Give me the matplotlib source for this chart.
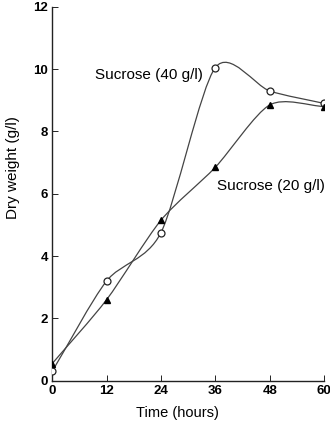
import numpy as np
import matplotlib
matplotlib.use("Agg")
import matplotlib.pyplot as plt
from matplotlib.path import Path
from matplotlib.patches import PathPatch

# data
time_h = [0, 12, 24, 36, 48, 60]
sucrose_40 = [0.3, 3.2, 4.75, 10.05, 9.3, 8.9]
sucrose_20 = [0.55, 2.6, 5.15, 6.85, 8.85, 8.8]
x_ticks = [0, 12, 24, 36, 48, 60]
y_ticks = [0, 2, 4, 6, 8, 10, 12]

plt.rcParams["font.family"] = ["Liberation Sans", "DejaVu Sans"]


def smooth_path(xs, ys, tension=0.8):
    # cardinal spline through the points, drawn as cubic bezier segments
    pts = np.column_stack([xs, ys]).astype(float)
    ext = np.vstack([2 * pts[0] - pts[1], pts, 2 * pts[-1] - pts[-2]])
    verts = [pts[0]]
    codes = [Path.MOVETO]
    for i in range(1, len(ext) - 2):
        p0, p1, p2, p3 = ext[i - 1], ext[i], ext[i + 1], ext[i + 2]
        c1 = p1 + tension * (p2 - p0) / 6
        c2 = p2 - tension * (p3 - p1) / 6
        verts += [c1, c2, p2]
        codes += [Path.CURVE4] * 3
    return Path(verts, codes)


fig = plt.figure(figsize=(3.3, 4.25), dpi=100)
ax = fig.add_axes([0.158, 0.104, 0.824, 0.88])

for ys in (sucrose_40, sucrose_20):
    ax.add_patch(PathPatch(smooth_path(time_h, ys), fill=False,
                           edgecolor="#444444", lw=0.9))

ax.plot(time_h, sucrose_40, "o", ms=5, mfc="white", mec="#222222", mew=0.9, zorder=3)
ax.plot(time_h, sucrose_20, "^", ms=5, color="black", zorder=3)

ax.text(9.5, 9.8, "Sucrose (40 g/l)", fontsize=11, va="center", ha="left")
ax.text(36.4, 6.25, "Sucrose (20 g/l)", fontsize=11, va="center", ha="left")

ax.set_xlim(0, 60)
ax.set_ylim(0, 12)
ax.set_xticks(x_ticks)
ax.set_yticks(y_ticks)
ax.tick_params(direction="in", length=4, width=0.6, labelsize=9.5, pad=3)
for lab in ax.get_xticklabels() + ax.get_yticklabels():
    lab.set_fontweight("bold")
ax.spines["top"].set_visible(False)
ax.spines["right"].set_visible(False)
for s in ("left", "bottom"):
    ax.spines[s].set_linewidth(1.0)
    ax.spines[s].set_color("#222222")
ax.set_xlabel("Time (hours)", fontsize=10.5)
ax.set_ylabel("Dry weight (g/l)", fontsize=11)
ax.xaxis.set_label_coords(0.46, -0.068)
ax.yaxis.set_label_coords(-0.12, 0.57)

fig.savefig("out.png", dpi=100)
